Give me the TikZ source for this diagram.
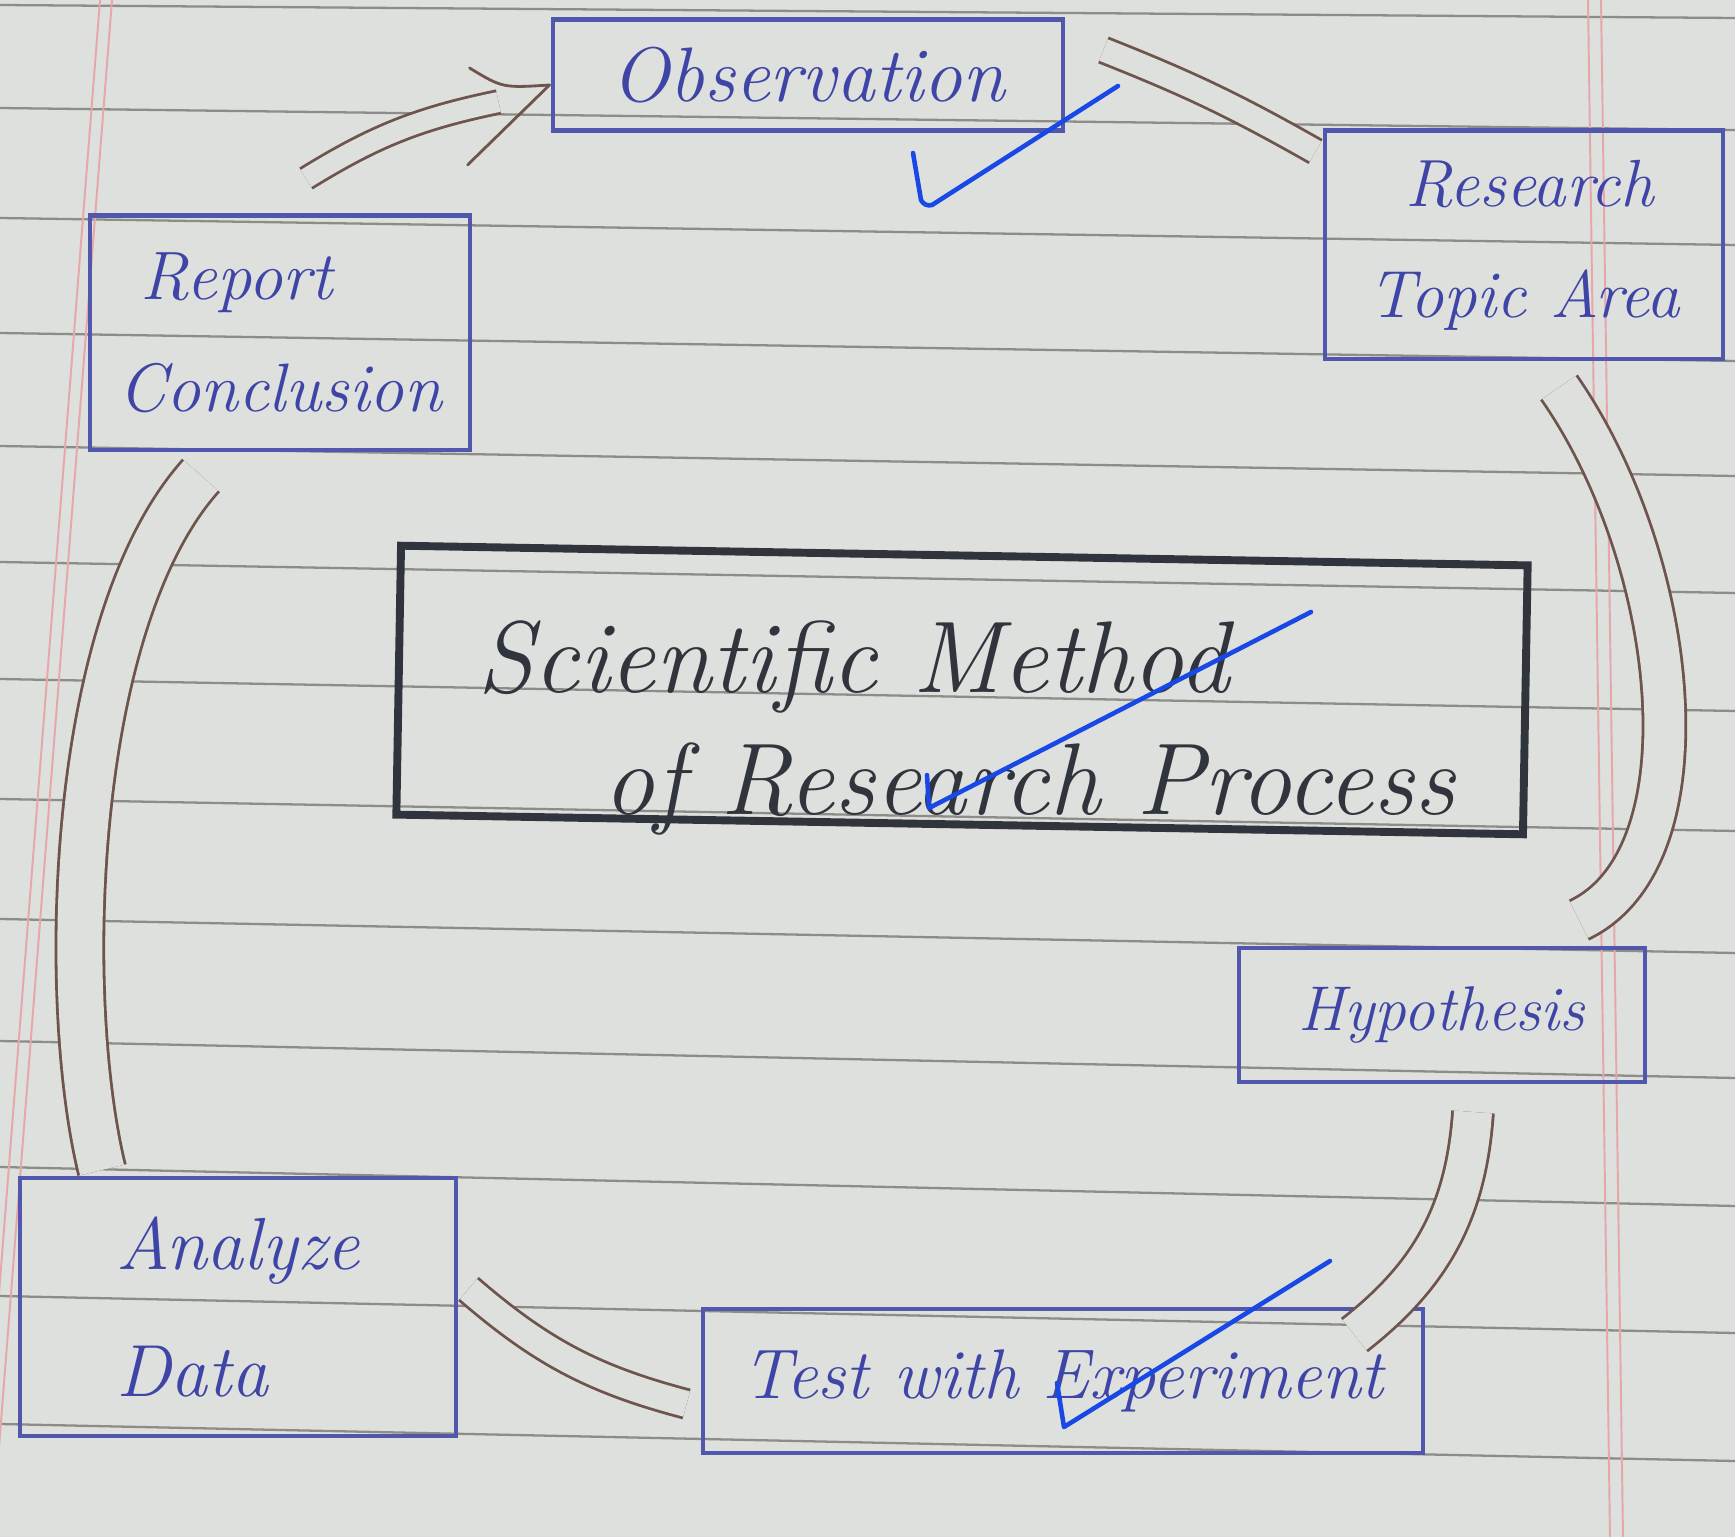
\documentclass[tikz,border=0pt]{standalone}
\usepackage{fontspec}
\usetikzlibrary{calc}
\definecolor{paper}{HTML}{DDE0DC}
\definecolor{ruleink}{HTML}{8C8C88}
\definecolor{marginink}{HTML}{E6A6AA}
\definecolor{ink}{HTML}{3F45A6}
\definecolor{boxink}{HTML}{5257AE}
\definecolor{darkink}{HTML}{30343C}
\definecolor{brownink}{HTML}{6E544C}
\definecolor{tickink}{HTML}{1848E6}
\begin{document}
\begin{tikzpicture}[x=0.02cm,y=-0.02cm,
  ruling/.style={draw=ruleink,line width=1.3pt},
  marginline/.style={draw=marginink,line width=1.1pt},
  box/.style={draw=boxink,line width=2.3pt,inner sep=0pt,text=ink,align=center},
  titlebox/.style={draw=darkink,line width=4.5pt,inner sep=0pt,rotate=-1},
  titletext/.style={text=darkink,align=left,inner sep=0pt,font=\fontsize{58}{69}\selectfont\itshape},
  conn/.style={draw=brownink,line width=1.6pt,double=paper,line cap=butt},
  connline/.style={draw=brownink,line width=1.6pt,line cap=round,line join=round},
  tickmark/.style={draw=tickink,line width=2.6pt,line cap=round,line join=round}]
\useasboundingbox (0,0) rectangle (1735,1537);
\clip (0,0) rectangle (1735,1537);
\fill[paper] (0,0) rectangle (1735,1537);
% ruled paper
\foreach \l/\r in {5/18,108/130,218/245,333/361,446/476,562/593,679/711,799/831,919/953,1041/1078,1167/1206,1296/1333,1424/1461}
  \draw[ruling] (0,\l) -- (1735,\r);
\draw[marginline] (100,0) -- (-20,1537);
\draw[marginline] (112,0) -- (-8,1537);
\draw[marginline] (1588,0) -- (1610,1537);
\draw[marginline] (1601,0) -- (1623,1537);
% boxes
\node[box,minimum width=10.22cm,minimum height=2.22cm,font=\fontsize{44}{52}\selectfont\itshape] (obs) at (808,75) {Observation};
\node[box,minimum width=7.98cm,minimum height=4.58cm,align=left,font=\fontsize{38}{63}\selectfont\itshape] (rta) at (1524,245) {\hspace*{21pt}Research\\Topic Area};
\node[box,minimum width=7.62cm,minimum height=4.70cm,align=left,font=\fontsize{39}{64}\selectfont\itshape] (rep) at (280,333) {\hspace*{13pt}Report\\Conclusion};
\node[titlebox,minimum width=22.54cm,minimum height=5.38cm] (title) at (962,690) {};
\node[titletext] (titletxt) at (966,728) {Scientific Method\\\hspace*{72pt}of Research Process};
\node[box,minimum width=8.12cm,minimum height=2.68cm,font=\fontsize{36}{44}\selectfont\itshape] (hyp) at (1442,1015) {Hypothesis};
\node[box,minimum width=8.74cm,minimum height=5.16cm,align=left,font=\fontsize{42}{72}\selectfont\itshape] (ana) at (238,1307) {Analyze\\Data};
\node[box,minimum width=14.42cm,minimum height=2.88cm,font=\fontsize{40}{48}\selectfont\itshape] (test) at (1063,1381) {Test with Experiment};
% connectors
\draw[conn,double distance=0.40cm] ($(rep.north)+(26,-35)$) to[bend left=10] ($(obs.west)+(-52,27)$);
\draw[connline] ($(obs.west)+(-81,-7)$) .. controls ($(obs.west)+(-48,13)$) .. ($(obs.west)+(-1,10)$) -- ($(obs.west)+(-83,90)$);
\draw[conn,double distance=0.46cm] ($(obs.east)+(38,-25)$) to[bend left=4] ($(rta.north west)+(-7,23)$);
\draw[conn,double distance=0.80cm] ($(rta.south)+(35,26)$) .. controls +(121,174) and +(131,-62) .. ($(hyp.north)+(137,-26)$);
\draw[conn,double distance=0.76cm] ($(hyp.south)+(31,28)$) to[bend left=24] ($(test.north east)+(-71,28)$);
\draw[conn,double distance=0.52cm] ($(ana.east)+(10,-18)$) to[bend right=13] ($(test.west)+(-14,23)$);
\draw[conn,double distance=0.90cm] ($(rep.south)+(-79,23)$) .. controls +(-131,146) and +(-42,-172) .. ($(ana.north)+(-136,-6)$);
% teacher's check marks
\draw[tickmark] (913,153) -- (921,200) to[bend right=40] (932,205) -- (1118,86);
\draw[tickmark] (927,775) -- (929,808) -- (1311,612);
\draw[tickmark] (1057,1383) -- (1064,1427) -- (1330,1261);
\end{tikzpicture}
\end{document}
